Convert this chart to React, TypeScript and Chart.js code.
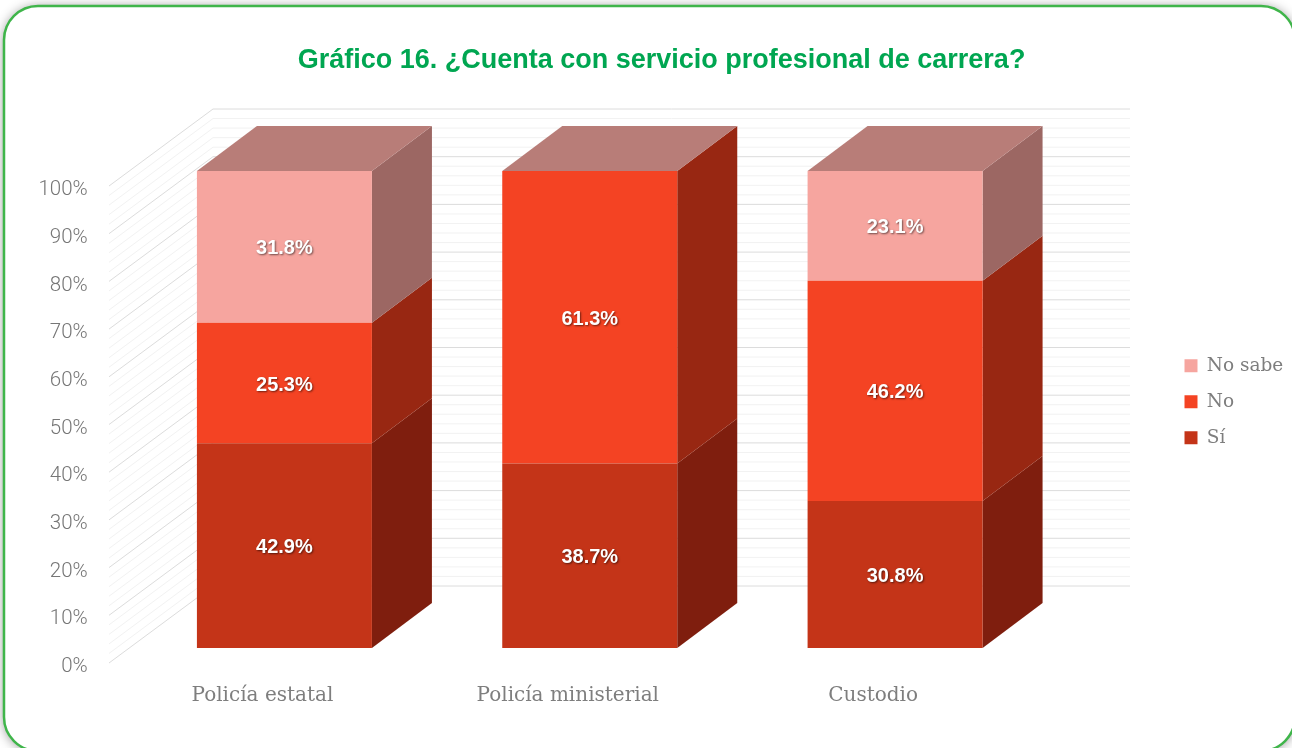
import React, { useEffect, useRef } from "react";
import { Chart, registerables } from "chart.js";

Chart.register(...registerables);

const categories = ["Policía estatal", "Policía ministerial", "Custodio"];
const si = [42.9, 38.7, 30.8];
const no = [25.3, 61.3, 46.2];
const noSabe = [31.8, 0, 23.1];
const titleText = "Gráfico 16. ¿Cuenta con servicio profesional de carrera?";

const faceColors = ["#C43418", "#F44323", "#F6A59F"];
const sideColors = ["#7F1E0E", "#982712", "#9C6763"];
const topColor = "#B87D78";
const gridMajor = "#DCDCDC";
const gridMinor = "#F2F2F2";
const textColor = "#7E7E7E";
const slab = "'DejaVu Serif'";

const AREA_LEFT = 131.75;
const AREA_RIGHT = 1047.75;
const AREA_TOP = 171;
const AREA_BOTTOM = 648;
const BAR_DX = 60;
const BAR_DY = 45;
const WALL = { frontX: 109, backX: 213, endX: 1130, shift: 15, rise: 77 };

const framePlugin = {
  id: "frame",
  beforeDraw(chart: any) {
    const ctx = chart.ctx;
    ctx.save();
    ctx.fillStyle = "#FFFFFF";
    ctx.fillRect(0, 0, chart.width, chart.height);
    ctx.beginPath();
    ctx.roundRect(4, 6, 1291, 745, 34);
    ctx.shadowColor = "rgba(0,0,0,0.45)";
    ctx.shadowBlur = 12;
    ctx.shadowOffsetY = 1;
    ctx.fill();
    ctx.shadowColor = "transparent";
    ctx.lineWidth = 2.5;
    ctx.strokeStyle = "#3FB54A";
    ctx.stroke();
    ctx.restore();
    if (chart.titleBlock) {
      chart.titleBlock.left = 31;
      chart.titleBlock.right = 1292;
    }
    if (chart.legend) {
      chart.legend.left = 1167;
      chart.legend.right = 1292;
      chart.legend.top = 339;
      chart.legend.bottom = 748;
    }
  },
};

const solidPlugin = {
  id: "solid",
  beforeDatasetsDraw(chart: any) {
    const ctx = chart.ctx;
    const y = chart.scales.y;
    ctx.save();
    ctx.lineWidth = 1;
    for (const major of [false, true]) {
      for (let v = 0; v <= 100; v += 2) {
        if ((v % 10 === 0) !== major) continue;
        const p = y.getPixelForValue(v) + WALL.shift;
        ctx.strokeStyle = major ? gridMajor : gridMinor;
        ctx.beginPath();
        ctx.moveTo(WALL.frontX, p);
        ctx.lineTo(WALL.backX, p - WALL.rise);
        ctx.lineTo(WALL.endX, p - WALL.rise);
        ctx.stroke();
      }
    }
    chart.data.datasets.forEach((ds: any, d: number) => {
      const meta = chart.getDatasetMeta(d);
      meta.data.forEach((bar: any, i: number) => {
        if (!ds.data[i]) return;
        const r = bar.x + bar.width / 2;
        const t = Math.max(bar.y, y.getPixelForValue(100));
        ctx.fillStyle = sideColors[d];
        ctx.beginPath();
        ctx.moveTo(r, bar.base);
        ctx.lineTo(r + BAR_DX, bar.base - BAR_DY);
        ctx.lineTo(r + BAR_DX, t - BAR_DY);
        ctx.lineTo(r, t);
        ctx.closePath();
        ctx.fill();
      });
    });
    const first = chart.getDatasetMeta(0).data;
    first.forEach((bar: any) => {
      const l = bar.x - bar.width / 2;
      const r = bar.x + bar.width / 2;
      const t = y.getPixelForValue(100);
      ctx.fillStyle = topColor;
      ctx.beginPath();
      ctx.moveTo(l, t);
      ctx.lineTo(r, t);
      ctx.lineTo(r + BAR_DX, t - BAR_DY);
      ctx.lineTo(l + BAR_DX, t - BAR_DY);
      ctx.closePath();
      ctx.fill();
    });
    ctx.restore();
  },
  afterDatasetsDraw(chart: any) {
    const ctx = chart.ctx;
    ctx.save();
    ctx.font = "bold 20px 'Liberation Sans'";
    ctx.textAlign = "center";
    ctx.textBaseline = "middle";
    ctx.fillStyle = "#FFFFFF";
    ctx.shadowColor = "rgba(0,0,0,0.55)";
    ctx.shadowBlur = 2;
    ctx.shadowOffsetX = 1;
    ctx.shadowOffsetY = 1;
    chart.data.datasets.forEach((ds: any, d: number) => {
      chart.getDatasetMeta(d).data.forEach((bar: any, i: number) => {
        if (!ds.data[i]) return;
        ctx.fillText(ds.data[i].toFixed(1) + "%", bar.x, (bar.y + bar.base) / 2 + 2);
      });
    });
    ctx.restore();
  },
};

export default function App() {
  const ref = useRef<HTMLCanvasElement>(null);
  useEffect(() => {
    const bars = { barPercentage: 1, categoryPercentage: 175 / 305.33, borderWidth: 0 };
    const chart = new Chart(ref.current as HTMLCanvasElement, {
      type: "bar",
      data: {
        labels: categories,
        datasets: [
          { label: "Sí", data: si, backgroundColor: faceColors[0], ...bars },
          { label: "No", data: no, backgroundColor: faceColors[1], ...bars },
          { label: "No sabe", data: noSabe, backgroundColor: faceColors[2], ...bars },
        ],
      },
      options: {
        responsive: false,
        animation: false,
        layout: { padding: { top: 0, right: 0, bottom: 0, left: 0 } },
        plugins: {
          tooltip: { enabled: false },
          title: {
            display: true,
            text: titleText,
            color: "#00A651",
            font: { family: "'Liberation Sans'", size: 27, weight: "bold", lineHeight: 1.2 },
            padding: { top: 44.5, bottom: 94.1 },
          },
          legend: {
            position: "right",
            align: "start",
            reverse: true,
            labels: {
              boxWidth: 13,
              boxHeight: 13,
              padding: 17.5,
              color: textColor,
              font: { family: slab, size: 18.5 },
            },
          },
        },
        scales: {
          x: {
            stacked: true,
            grid: { display: false, drawTicks: false },
            border: { display: false },
            afterFit: (s: any) => {
              s.height = 748 - AREA_BOTTOM;
            },
            ticks: {
              color: textColor,
              labelOffset: -22,
              padding: 36,
              maxRotation: 0,
              font: { family: slab, size: 20 },
            },
          },
          y: {
            stacked: true,
            min: 0,
            max: 100,
            grid: { display: false, drawTicks: false },
            border: { display: false },
            afterFit: (s: any) => {
              s.width = AREA_LEFT;
            },
            ticks: {
              stepSize: 10,
              color: "#767676",
              padding: 44,
              labelOffset: 19,
              callback: (v: any) => v + "%",
              font: { family: "Roboto", size: 20.5, weight: "300" },
            },
          },
        },
      },
      plugins: [framePlugin, solidPlugin],
    } as any);
    const pad = (chart.options.layout as any).padding;
    pad.right = Math.max(0, chart.chartArea.right - AREA_RIGHT);
    const p = (chart.options.plugins as any).title.padding;
    p.bottom += AREA_TOP - chart.chartArea.top;
    chart.update();
    return () => chart.destroy();
  }, []);
  return (
    <div style={{ position: "fixed", left: 0, top: 0, width: 1292, height: 748, overflow: "hidden" }}>
      <canvas ref={ref} width={1292} height={748} style={{ display: "block" }} />
    </div>
  );
}
